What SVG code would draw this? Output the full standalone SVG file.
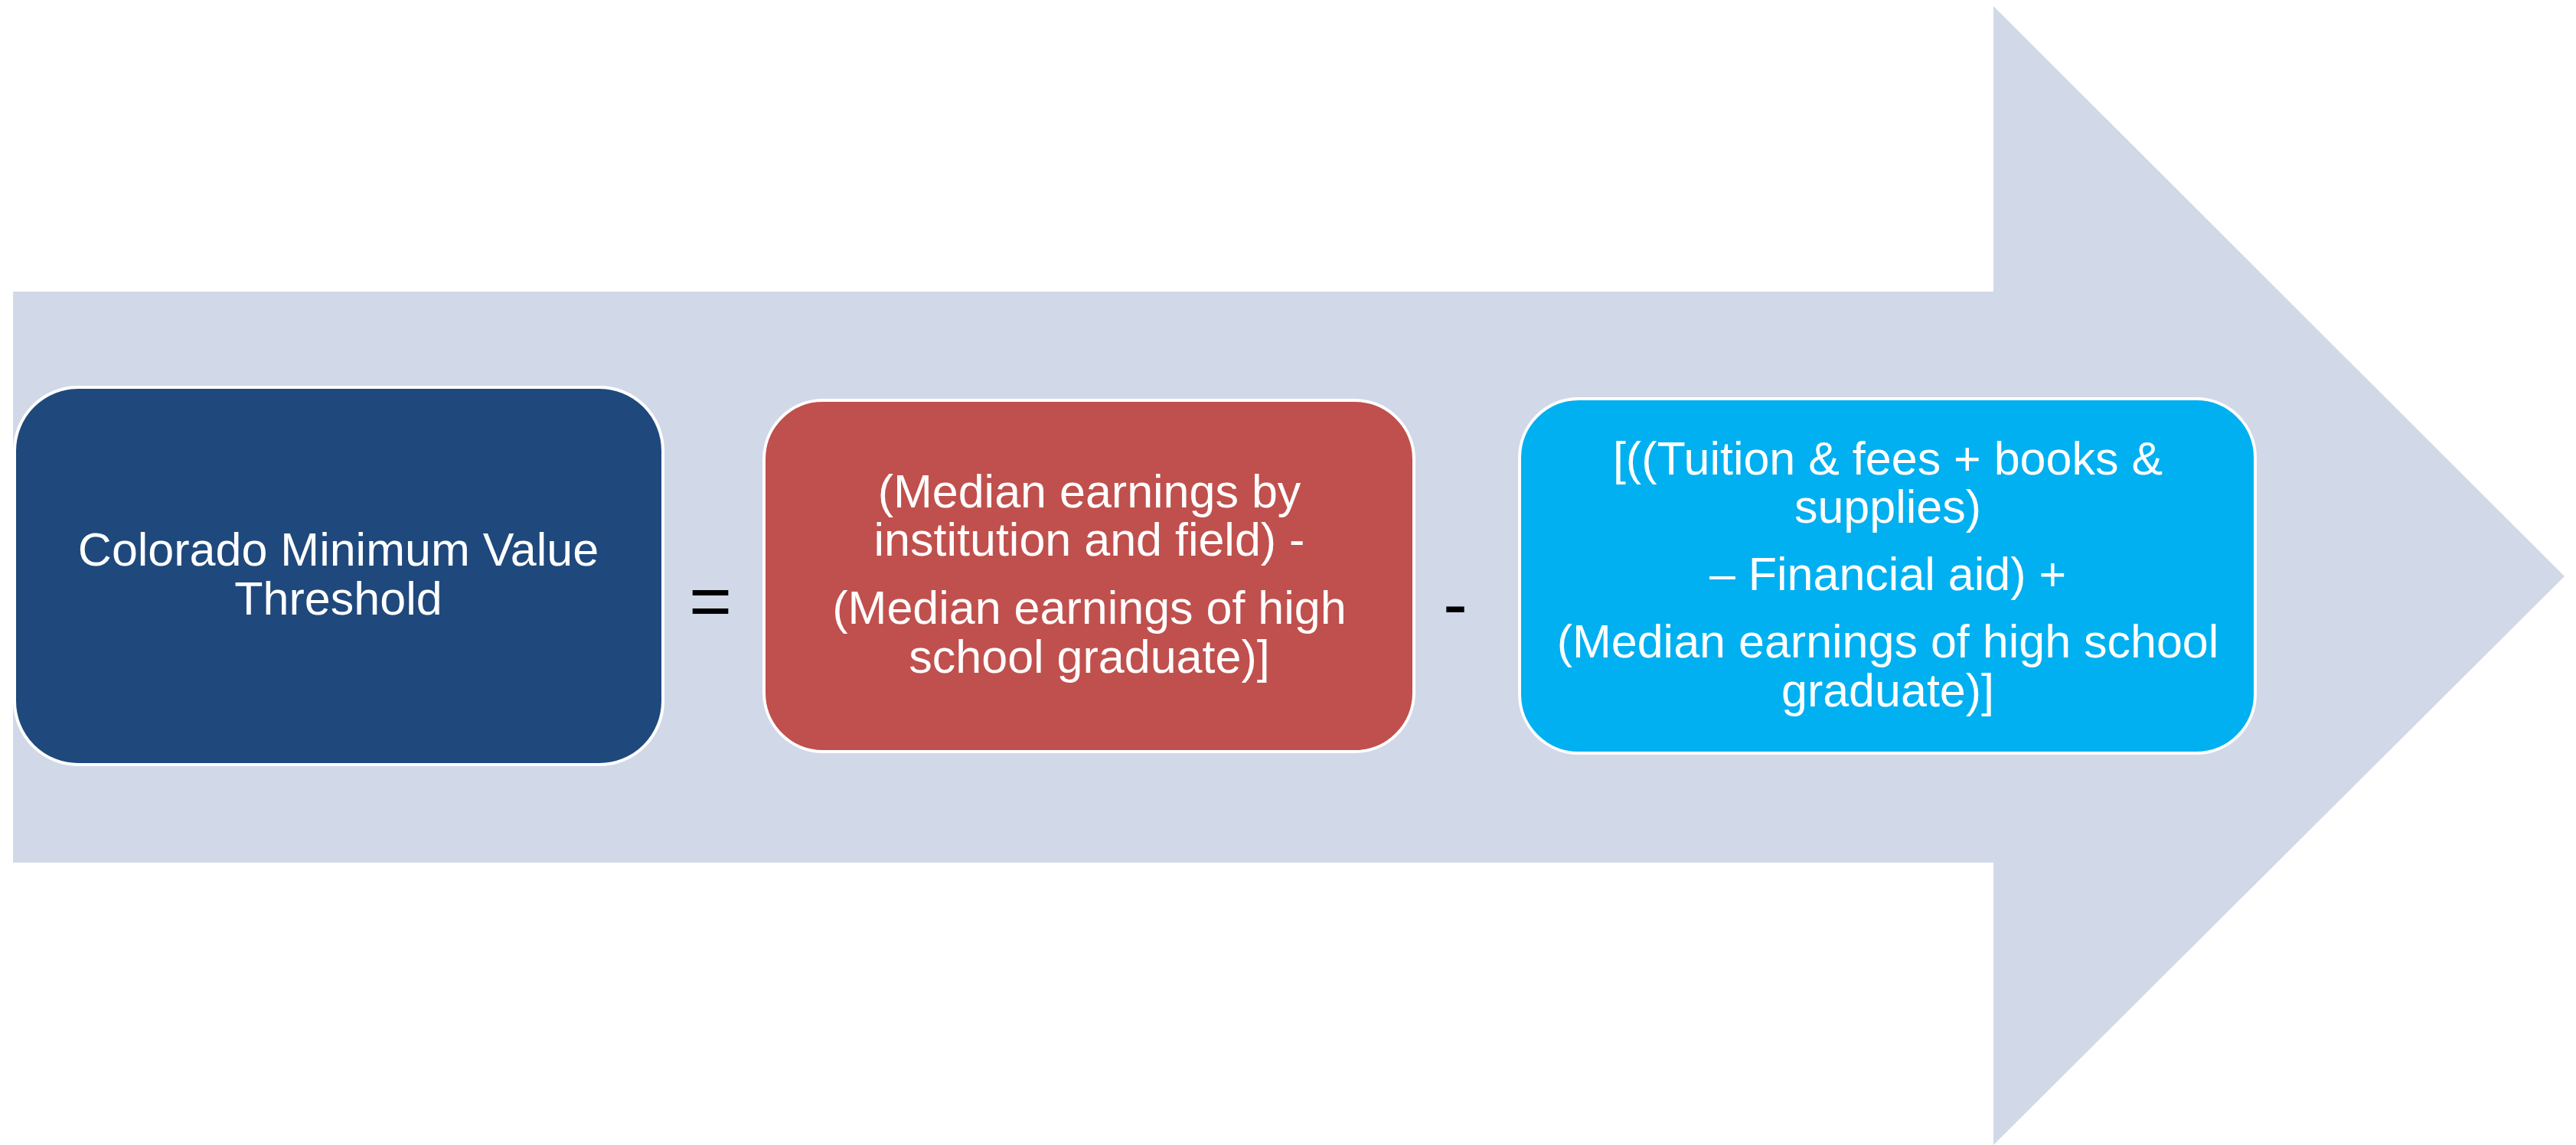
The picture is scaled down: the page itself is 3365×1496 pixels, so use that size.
<svg xmlns="http://www.w3.org/2000/svg" width="3365" height="1496" viewBox="0 0 3365 1496">
<style>
.box{stroke:#FFFFFF;stroke-width:4}
.t{font-family:"Liberation Sans",Arial,sans-serif;font-size:61px;fill:#FFFFFF;text-anchor:middle}
.op{font-family:"Liberation Sans",Arial,sans-serif;font-size:96px;fill:#000000;text-anchor:middle}
</style>
<rect x="0" y="0" width="3365" height="1496" fill="#FFFFFF"/>
<g id="arrow">
<polygon points="17,381 2604,381 2604,8 3350,753 2604,1496 2604,1127 17,1127" fill="#D1D8E8"/>
</g>
<g id="node-threshold">
<rect class="box" x="19" y="506" width="847" height="493" rx="83" ry="83" fill="#1F497D"/>
<text class="t" x="442" y="739">Colorado Minimum Value</text>
<text class="t" x="442" y="803">Threshold</text>
</g>
<g id="op-equals">
<text class="op" x="928" y="818">=</text>
</g>
<g id="node-earnings">
<rect class="box" x="998" y="523" width="849" height="459" rx="77" ry="77" fill="#C0504D"/>
<text class="t" x="1423" y="663">(Median earnings by</text>
<text class="t" x="1423" y="726">institution and field) -</text>
<text class="t" x="1423" y="815">(Median earnings of high</text>
<text class="t" x="1423" y="879">school graduate)]</text>
</g>
<g id="op-minus">
<text class="op" x="1901" y="822">-</text>
</g>
<g id="node-costs">
<rect class="box" x="1985" y="521" width="961" height="463" rx="77" ry="77" fill="#00B0F0"/>
<text class="t" x="2466" y="620">[((Tuition &amp; fees + books &amp;</text>
<text class="t" x="2466" y="683">supplies)</text>
<text class="t" x="2466" y="771">– Financial aid) +</text>
<text class="t" x="2466" y="859">(Median earnings of high school</text>
<text class="t" x="2466" y="923">graduate)]</text>
</g>
<g id="connectors"></g>
</svg>
